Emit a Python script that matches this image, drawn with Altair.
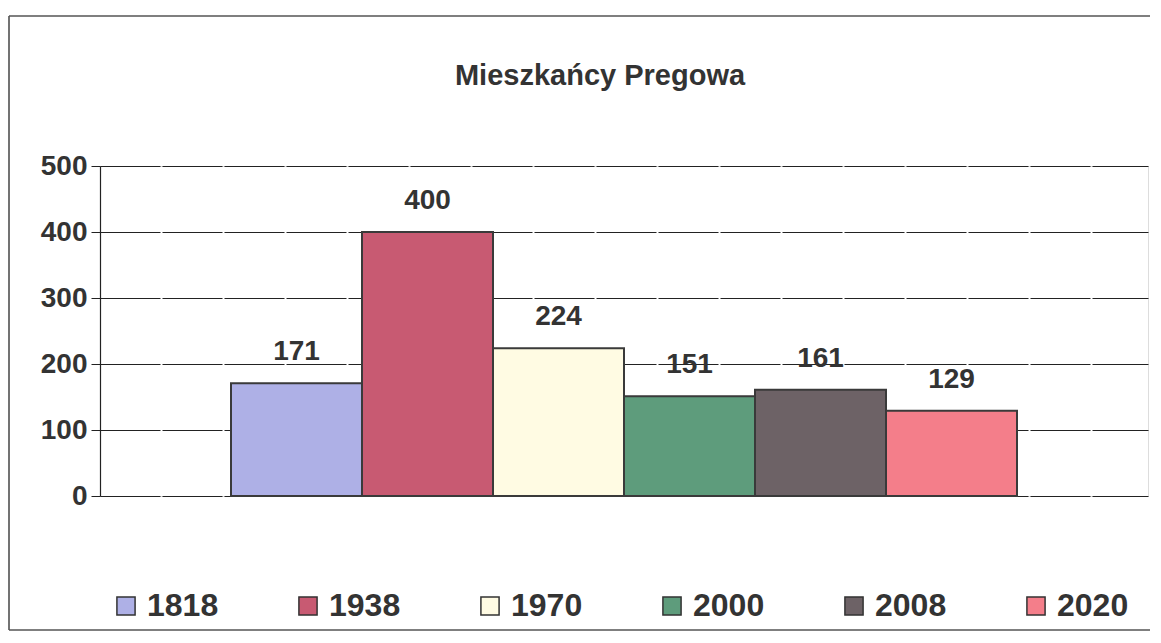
import altair as alt
import pandas as pd

years = ["1818", "1938", "1970", "2000", "2008", "2020"]
residents = [171, 400, 224, 151, 161, 129]
colors = ["#aeb0e6", "#c85a72", "#fffbe3", "#5e9c7c", "#6d6266", "#f47e8a"]
y_ticks = [0, 100, 200, 300, 400, 500]
title_text = "Mieszkańcy Pregowa"

df = pd.DataFrame({"rok": years, "mieszkancy": residents})

FONT = "Liberation Sans"
INK = "#333333"

x_enc = alt.X("rok:N", sort=years, axis=None,
              scale=alt.Scale(paddingInner=0, paddingOuter=1))
y_enc = alt.Y("mieszkancy:Q",
              scale=alt.Scale(domain=[0, 500], nice=False),
              axis=alt.Axis(values=y_ticks, title=None, grid=True,
                            gridColor="#222222", gridWidth=1.2, gridDash=[60, 2],
                            domain=True, domainColor="#222222", domainWidth=1.2,
                            ticks=True, tickSize=9, tickColor="#222222",
                            labelFont=FONT, labelFontSize=28, labelFontWeight="bold",
                            labelColor=INK, labelPadding=4))

bars = alt.Chart(df).mark_bar(stroke="#3a3a3a", strokeWidth=2).encode(
    x=x_enc,
    y=y_enc,
    color=alt.Color("rok:N", sort=years,
                    scale=alt.Scale(domain=years, range=colors),
                    legend=alt.Legend(title=None, orient="none", legendX=10, legendY=424,
                                      direction="horizontal", columns=6, gridAlign="all",
                                      columnPadding=73, symbolType="square", symbolSize=330,
                                      symbolStrokeColor="#333333", symbolStrokeWidth=1.5,
                                      labelFont=FONT, labelFontSize=32, labelFontWeight="bold",
                                      labelColor=INK, labelOffset=5, labelLimit=200)),
)

labels = alt.Chart(df).mark_text(font=FONT, fontSize=28, fontWeight="bold", color=INK,
                                 baseline="middle", dy=-31).encode(
    x=x_enc,
    y=alt.Y("mieszkancy:Q"),
    text=alt.Text("mieszkancy:Q"),
)

one = alt.Data(values=[{"k": 1}])
frame_left = alt.Chart(one).mark_rule(color="#444444", strokeWidth=1.5).encode(
    x=alt.value(-91), y=alt.value(-150), y2=alt.value(464))
frame_top = alt.Chart(one).mark_rule(color="#555555", strokeWidth=1.5).encode(
    x=alt.value(-91), x2=alt.value(1050), y=alt.value(-150))
frame_bottom = alt.Chart(one).mark_rule(color="#555555", strokeWidth=1.5).encode(
    x=alt.value(-91), x2=alt.value(1050), y=alt.value(464))

chart = alt.layer(bars, labels, frame_left, frame_top, frame_bottom).properties(
    width=1048, height=330,
    padding={"left": 0, "top": 7, "right": 0, "bottom": 0},
    title=alt.TitleParams(title_text, font=FONT, fontSize=29,
                          fontWeight="bold", color=INK, anchor="middle", dx=-24,
                          offset=-76),
).configure_view(stroke=None).configure(background="white")

chart.save("out.html", embed_options={"renderer": "svg", "actions": False})
